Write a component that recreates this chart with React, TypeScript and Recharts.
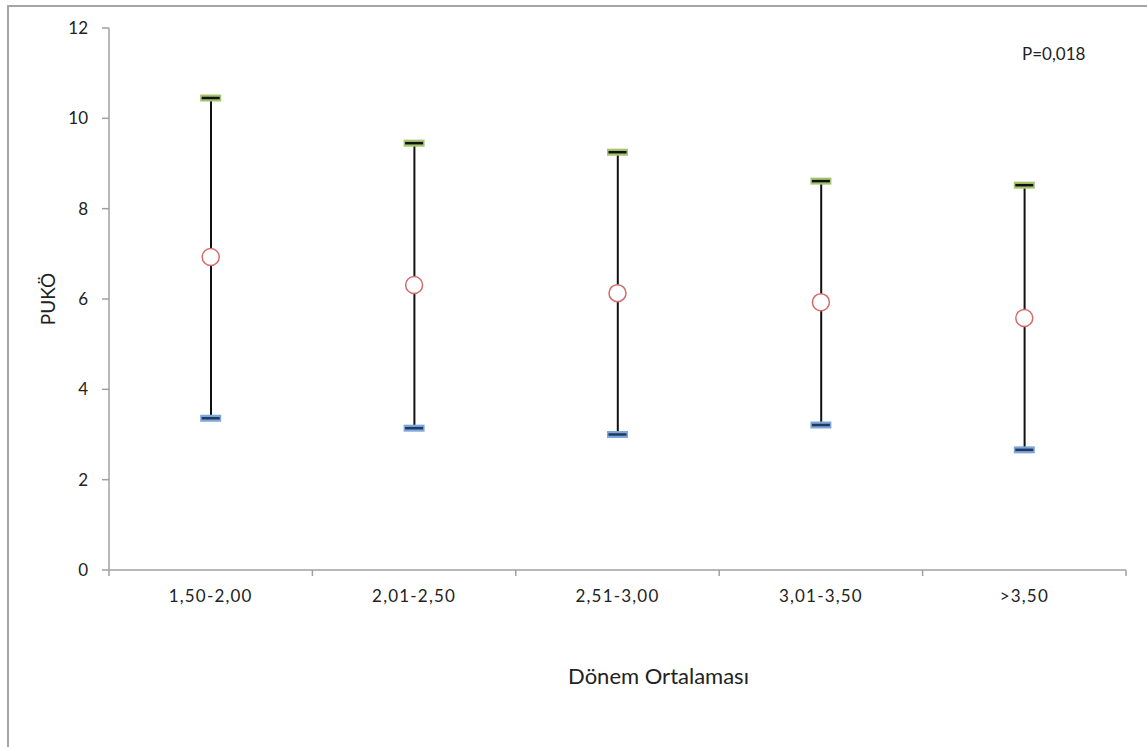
import React from "react";
import { ComposedChart, Bar, Line, XAxis, YAxis, Label } from "recharts";

// group labels (Dönem Ortalaması) and PUKÖ summary values
const groups = ["1,50-2,00", "2,01-2,50", "2,51-3,00", "3,01-3,50", ">3,50"];
const meanValues = [6.93, 6.31, 6.13, 5.93, 5.58];
const highValues = [10.45, 9.45, 9.25, 8.61, 8.52];
const lowValues = [3.36, 3.14, 3.0, 3.21, 2.66];
const yTicks = [0, 2, 4, 6, 8, 10, 12];
const xTicks = [0, 1, 2, 3, 4, 5];

const data = groups.map((name, i) => ({
  name,
  x: i + 0.5,
  mean: meanValues[i],
  high: highValues[i],
  low: lowValues[i],
  range: [lowValues[i], highValues[i]],
}));

const WIDTH = 1138;
const HEIGHT = 740;
const MARGIN = { top: 21, right: 21, left: 0, bottom: 0 };
const Y_AXIS_WIDTH = 100;
const BAND = (WIDTH - MARGIN.left - MARGIN.right - Y_AXIS_WIDTH) / groups.length;
const FONT = "Lato, 'Open Sans', sans-serif";
const AXIS_COLOR = "#a0a0a0";

const GroupTick = ({ x, y, payload }: any) => {
  const i = payload.value;
  if (i >= groups.length) return <g />;
  return (
    <text
      x={x + BAND / 2}
      y={y}
      dy="0.71em"
      textAnchor="middle"
      fill="#222"
      fontSize={17}
      letterSpacing={1.2}
      fontFamily={FONT}
    >
      {groups[i]}
    </text>
  );
};

const RangeLine = ({ x, y, width, height }: any) => (
  <line
    x1={x + width / 2}
    x2={x + width / 2}
    y1={y}
    y2={y + height}
    stroke="#111"
    strokeWidth={2}
  />
);

const HighCap = ({ cx, cy }: any) => (
  <g>
    <rect x={cx - 10.5} y={cy - 3.5} width={21} height={7} fill="#a4c36f" />
    <line x1={cx - 9} x2={cx + 9} y1={cy} y2={cy} stroke="#111" strokeWidth={2.5} />
  </g>
);

const LowCap = ({ cx, cy }: any) => (
  <g>
    <rect x={cx - 10.5} y={cy - 3.5} width={21} height={7} fill="#7fa6d8" />
    <line x1={cx - 9} x2={cx + 9} y1={cy} y2={cy} stroke="#1f3864" strokeWidth={2.5} />
  </g>
);

const MeanDot = ({ cx, cy }: any) => (
  <circle cx={cx} cy={cy} r={8.5} fill="#fff" stroke="#d46b6b" strokeWidth={1.5} />
);

export default function App() {
  return (
    <div
      style={{
        position: "absolute",
        left: 7,
        top: 5,
        width: WIDTH,
        height: HEIGHT,
        borderLeft: "2px solid #a6a6a6",
        borderTop: "2px solid #a6a6a6",
        background: "#fff",
      }}
    >
      <div
        style={{
          position: "absolute",
          left: 1013,
          top: 36,
          fontFamily: FONT,
          fontSize: 17,
          color: "#222",
          whiteSpace: "nowrap",
        }}
      >
        P=0,018
      </div>
      <ComposedChart width={WIDTH} height={HEIGHT} data={data} margin={MARGIN}>
        <XAxis
          dataKey="x"
          type="number"
          domain={[0, 5]}
          ticks={xTicks}
          interval={0}
          height={177}
          tickSize={6}
          tickMargin={14}
          axisLine={{ stroke: AXIS_COLOR, strokeWidth: 1.5 }}
          tickLine={{ stroke: AXIS_COLOR, strokeWidth: 1.5 }}
          tick={<GroupTick />}
        >
          <Label
            content={({ viewBox }: any) => (
              <text
                x={viewBox.x + viewBox.width / 2 + 41}
                y={viewBox.y + 98}
                dy="0.71em"
                textAnchor="middle"
                fill="#222"
                fontSize={22}
                fontFamily={FONT}
              >
                Dönem Ortalaması
              </text>
            )}
          />
        </XAxis>
        <YAxis
          domain={[0, 12]}
          ticks={yTicks}
          interval={0}
          width={Y_AXIS_WIDTH}
          tickSize={7}
          tickMargin={14}
          axisLine={{ stroke: AXIS_COLOR, strokeWidth: 1.5 }}
          tickLine={{ stroke: AXIS_COLOR, strokeWidth: 1.5 }}
          tick={{ fill: "#222", fontSize: 17, fontFamily: FONT }}
        >
          <Label
            content={({ viewBox }: any) => (
              <text
                x={38}
                y={viewBox.y + viewBox.height / 2}
                transform={`rotate(-90, 38, ${viewBox.y + viewBox.height / 2})`}
                textAnchor="middle"
                dominantBaseline="central"
                fill="#222"
                fontSize={19}
                fontFamily={FONT}
              >
                PUKÖ
              </text>
            )}
          />
        </YAxis>
        <Bar
          dataKey="range"
          barSize={2}
          shape={<RangeLine />}
          isAnimationActive={false}
        />
        <Line
          dataKey="high"
          stroke="none"
          dot={<HighCap />}
          activeDot={false}
          isAnimationActive={false}
        />
        <Line
          dataKey="low"
          stroke="none"
          dot={<LowCap />}
          activeDot={false}
          isAnimationActive={false}
        />
        <Line
          dataKey="mean"
          stroke="none"
          dot={<MeanDot />}
          activeDot={false}
          isAnimationActive={false}
        />
      </ComposedChart>
    </div>
  );
}
